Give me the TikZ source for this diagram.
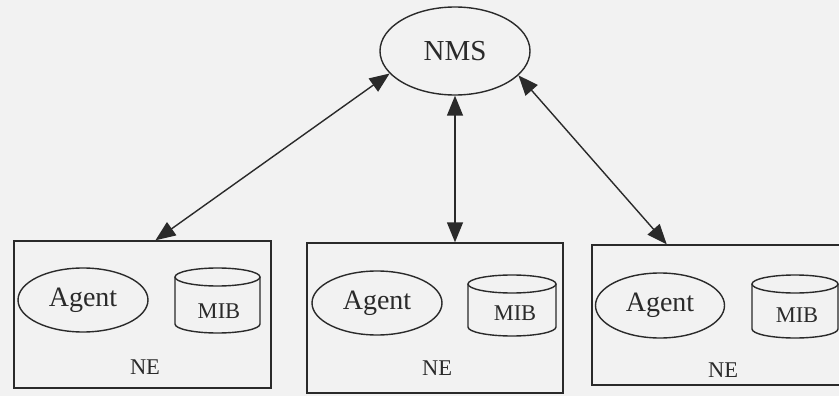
\documentclass[tikz,border=0pt]{standalone}
\usepackage{fontspec}
\setmainfont{Liberation Serif}
\usetikzlibrary{shapes.geometric,arrows.meta,calc}
\definecolor{bgc}{HTML}{F2F2F2}
\definecolor{ink}{HTML}{2A2A2A}
\newcommand\mibcyl[4]{%
  \draw[cyl] ({#1-#2},{#3+9}) -- ({#1-#2},{#4-9})
    arc[start angle=180,end angle=0,x radius=#2,y radius=9] -- ({#1+#2},{#3+9});
  \draw[cyl] (#1,{#3+9}) ellipse[x radius=#2,y radius=9];}
\begin{document}
\begin{tikzpicture}[x=1pt,y=-1pt,
  nebox/.style={draw=ink, line width=1.4pt, rectangle, inner sep=0pt},
  agent/.style={draw=ink, line width=1.4pt, ellipse, inner sep=0pt,
     minimum width=130pt, minimum height=64pt, font=\fontsize{28}{30}\selectfont, text=ink},
  cyl/.style={draw=ink, line width=1.4pt},
  mibtxt/.style={font=\fontsize{22.5}{24}\selectfont, text=ink, inner sep=0pt},
  netxt/.style={font=\fontsize{22.5}{24}\selectfont, text=ink, inner sep=0pt},
  link/.style={draw=ink, line width=1.4pt,
     {Triangle[length=20pt,width=16pt]}-{Triangle[length=20pt,width=16pt]}}]
\useasboundingbox (0,0) rectangle (839,396);
\fill[bgc] (0,0) rectangle (839,396);
\clip (0,0) rectangle (839,396);

\node[draw=ink, line width=1.4pt, ellipse, inner sep=0pt, minimum width=150pt,
  minimum height=88pt, font=\fontsize{29}{31}\selectfont, text=ink] (nms) at (455,51) {NMS};

\node[nebox, minimum width=257pt, minimum height=147pt] (box1) at (142.5,314.5) {};
\node[nebox, minimum width=256pt, minimum height=150pt] (box2) at (435,318) {};
\node[nebox, minimum width=268pt, minimum height=140pt] (box3) at (726,315) {};

\node[agent] (ag1) at (83,300) {Agent};
\node[agent] (ag2) at (377,303) {Agent};
\node[agent, minimum width=129pt, minimum height=65pt] (ag3) at (660,305.5) {Agent};

\mibcyl{217.5}{42.5}{268}{333}
\mibcyl{512}{44}{275}{336}
\mibcyl{795}{43}{275}{338}
\node[mibtxt] (mib1) at (219,311) {MIB};
\node[mibtxt] (mib2) at (515,313) {MIB};
\node[mibtxt] (mib3) at (797,315) {MIB};

\node[netxt] (ne1) at (145,367) {NE};
\node[netxt] (ne2) at (437,368) {NE};
\node[netxt] (ne3) at (723,370) {NE};

\draw[link] ($(box1.north west)!0.55!(box1.north east)$) -- (nms.199);
\draw[link] (nms.south) -- (nms.south |- box2.north);
\draw[link] (nms.339) -- ($(box3.north west)!0.28!(box3.north east)$);
\end{tikzpicture}
\end{document}
